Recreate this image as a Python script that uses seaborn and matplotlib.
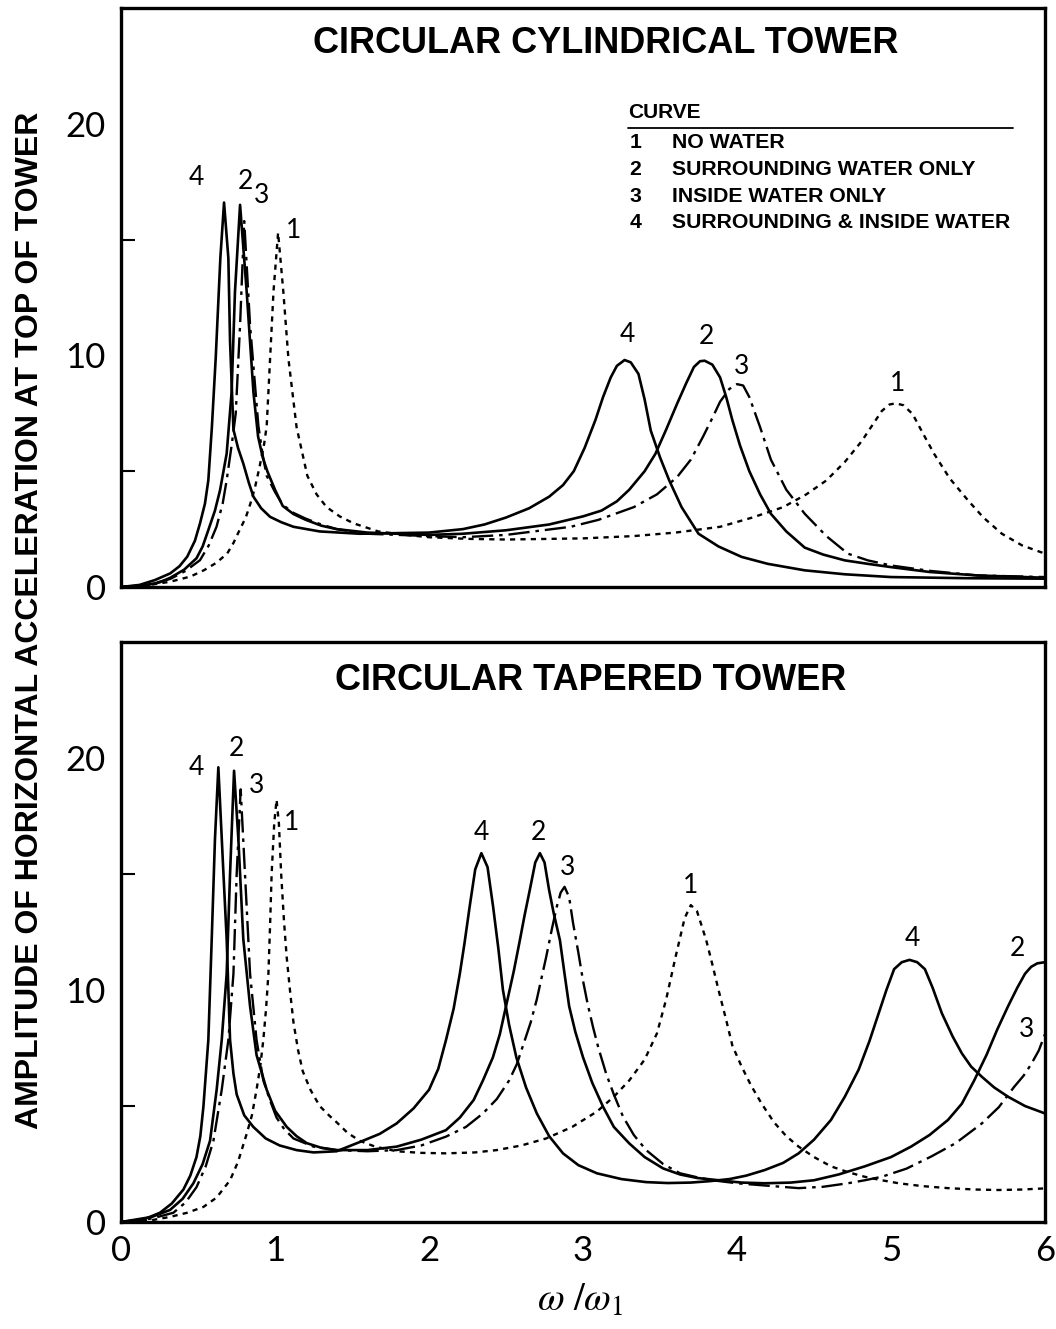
import matplotlib
matplotlib.use("Agg")
import matplotlib.pyplot as plt
import seaborn as sns
import pandas as pd

# ---------------- data ----------------
TOP_TITLE = "CIRCULAR CYLINDRICAL TOWER"
BOTTOM_TITLE = "CIRCULAR TAPERED TOWER"
Y_LABEL = "AMPLITUDE OF HORIZONTAL ACCELERATION AT TOP OF TOWER"
X_LABEL = r"$\omega\ /\omega_1$"
X_TICKS = [0, 1, 2, 3, 4, 5, 6]
Y_MAJOR = [0, 10, 20]
Y_MINOR = [5, 15]
LEGEND_TITLE = "CURVE"
LEGEND_NUMBERS = ["1", "2", "3", "4"]
LEGEND_LABELS = ["NO WATER", "SURROUNDING WATER ONLY",
                 "INSIDE WATER ONLY", "SURROUNDING & INSIDE WATER"]

# top panel (cylindrical tower): (omega/omega1, amplitude)
top_c1 = [(0, 0), (0.15, 0.05), (0.32, 0.23), (0.45, 0.45), (0.54, 0.73), (0.62, 1.05),
          (0.69, 1.45), (0.73, 1.9), (0.77, 2.46), (0.81, 3.0), (0.84, 3.6), (0.87, 4.3),
          (0.90, 5.2), (0.93, 6.2), (0.946, 6.96), (0.968, 9.86), (0.99, 12.75), (1.02, 15.3),
          (1.054, 12.75), (1.087, 9.86), (1.14, 6.9), (1.21, 4.8), (1.27, 4.0), (1.335, 3.45),
          (1.42, 3.05), (1.51, 2.75), (1.67, 2.4), (1.85, 2.25), (2.0, 2.15), (2.25, 2.08),
          (2.5, 2.05), (3.0, 2.1), (3.33, 2.2), (3.6, 2.35), (3.89, 2.6), (4.1, 3.0),
          (4.3, 3.45), (4.45, 4.0), (4.58, 4.6), (4.7, 5.4), (4.81, 6.3), (4.88, 7.0),
          (4.94, 7.6), (4.99, 7.88), (5.03, 7.93), (5.08, 7.85), (5.14, 7.47), (5.21, 6.6),
          (5.28, 5.75), (5.38, 4.7), (5.5, 3.74), (5.6, 3.0), (5.72, 2.3), (5.85, 1.8),
          (6.0, 1.44)]
top_c2 = [(0, 0), (0.15, 0.07), (0.25, 0.2), (0.32, 0.4), (0.41, 0.75), (0.49, 1.24),
          (0.53, 1.75), (0.567, 2.46), (0.61, 3.3), (0.643, 4.18), (0.686, 5.76), (0.718, 8.4),
          (0.74, 12.75), (0.773, 16.5), (0.816, 12.75), (0.86, 8.4), (0.89, 6.5), (0.92, 5.6),
          (0.95, 5.0), (1.0, 4.2), (1.05, 3.5), (1.12, 3.15), (1.2, 2.9), (1.3, 2.65),
          (1.4, 2.5), (1.6, 2.35), (2.0, 2.25), (2.22, 2.3), (2.5, 2.45), (2.78, 2.7),
          (3.0, 3.05), (3.12, 3.3), (3.22, 3.7), (3.3, 4.2), (3.4, 5.0), (3.47, 5.75),
          (3.54, 6.8), (3.61, 7.9), (3.67, 8.8), (3.72, 9.5), (3.76, 9.75), (3.79, 9.77),
          (3.84, 9.6), (3.89, 9.05), (3.93, 8.2), (3.97, 7.2), (4.02, 6.1), (4.08, 5.0),
          (4.15, 4.0), (4.22, 3.16), (4.32, 2.4), (4.44, 1.7), (4.56, 1.4), (4.7, 1.15),
          (4.85, 1.0), (5.0, 0.86), (5.25, 0.65), (5.56, 0.5), (6.0, 0.4)]
top_c3 = [(0, 0), (0.15, 0.05), (0.32, 0.35), (0.42, 0.7), (0.513, 1.16), (0.57, 1.8),
          (0.62, 2.6), (0.66, 3.6), (0.686, 4.61), (0.72, 6.2), (0.745, 7.5), (0.773, 11.3),
          (0.80, 15.8), (0.838, 11.3), (0.892, 6.96), (0.92, 5.7), (0.946, 4.8), (1.0, 4.1),
          (1.05, 3.55), (1.12, 3.2), (1.2, 2.95), (1.3, 2.7), (1.4, 2.5), (1.6, 2.3),
          (2.0, 2.2), (2.22, 2.15), (2.5, 2.25), (2.92, 2.6), (3.1, 2.9), (3.33, 3.45),
          (3.48, 4.0), (3.61, 4.74), (3.7, 5.5), (3.78, 6.5), (3.84, 7.3), (3.89, 8.0),
          (3.95, 8.55), (4.0, 8.76), (4.04, 8.7), (4.08, 8.2), (4.15, 6.9), (4.22, 5.5),
          (4.32, 4.2), (4.44, 3.16), (4.58, 2.2), (4.72, 1.44), (4.85, 1.15), (5.0, 0.93),
          (5.25, 0.7), (5.56, 0.5), (6.0, 0.43)]
top_c4 = [(0, 0), (0.12, 0.09), (0.22, 0.3), (0.32, 0.59), (0.38, 0.9), (0.43, 1.31),
          (0.48, 2.0), (0.513, 2.75), (0.545, 3.6), (0.567, 4.61), (0.59, 6.9), (0.615, 9.9),
          (0.645, 14.2), (0.669, 16.6), (0.697, 14.2), (0.708, 10.6), (0.73, 6.8), (0.76, 6.0),
          (0.794, 5.33), (0.83, 4.5), (0.86, 3.9), (0.91, 3.4), (0.968, 3.03), (1.04, 2.8),
          (1.12, 2.6), (1.29, 2.4), (1.55, 2.3), (2.0, 2.35), (2.22, 2.5), (2.36, 2.7),
          (2.5, 3.0), (2.65, 3.4), (2.78, 3.9), (2.87, 4.4), (2.94, 5.0), (3.01, 6.0),
          (3.08, 7.2), (3.13, 8.2), (3.18, 9.05), (3.22, 9.55), (3.27, 9.8), (3.31, 9.7),
          (3.36, 9.2), (3.40, 8.1), (3.44, 6.75), (3.50, 5.6), (3.56, 4.6), (3.64, 3.45),
          (3.75, 2.3), (3.88, 1.75), (4.03, 1.3), (4.2, 1.0), (4.44, 0.72), (4.7, 0.55),
          (5.0, 0.43), (5.5, 0.38), (6.0, 0.36)]

# bottom panel (tapered tower)
bot_c1 = [(0, 0), (0.2, 0.08), (0.318, 0.22), (0.43, 0.4), (0.535, 0.65), (0.62, 1.05),
          (0.708, 1.8), (0.76, 2.6), (0.816, 3.8), (0.85, 4.6), (0.88, 5.7), (0.904, 6.7),
          (0.924, 7.85), (0.942, 9.2), (0.957, 10.7), (0.968, 12.8), (0.978, 15.0),
          (0.995, 17.2), (1.01, 18.2), (1.025, 17.2), (1.04, 15.0), (1.058, 13.0),
          (1.076, 11.4), (1.1, 9.8), (1.12, 8.6), (1.15, 7.4), (1.18, 6.5), (1.23, 5.7),
          (1.29, 5.0), (1.35, 4.6), (1.4, 4.3), (1.47, 3.85), (1.55, 3.5), (1.65, 3.25),
          (1.79, 3.05), (1.95, 2.98), (2.11, 2.96), (2.3, 3.0), (2.44, 3.1), (2.6, 3.3),
          (2.76, 3.6), (2.93, 4.1), (3.09, 4.76), (3.2, 5.4), (3.3, 6.1), (3.4, 7.0),
          (3.48, 8.13), (3.54, 9.6), (3.6, 11.4), (3.66, 13.1), (3.70, 13.66), (3.74, 13.4),
          (3.8, 12.15), (3.84, 11.1), (3.88, 10.0), (3.93, 8.7), (3.97, 7.6), (4.03, 6.7),
          (4.09, 5.9), (4.16, 5.1), (4.24, 4.3), (4.32, 3.7), (4.4, 3.25), (4.5, 2.8),
          (4.61, 2.4), (4.72, 2.15), (4.83, 1.95), (4.94, 1.8), (5.05, 1.67), (5.2, 1.55),
          (5.37, 1.46), (5.55, 1.4), (5.7, 1.38), (5.85, 1.4), (6.0, 1.45)]
bot_c2 = [(0, 0), (0.2, 0.22), (0.318, 0.52), (0.4, 1.0), (0.47, 1.67), (0.53, 2.5),
          (0.578, 3.5), (0.621, 5.7), (0.654, 7.85), (0.686, 10.7), (0.708, 15.0),
          (0.734, 19.45), (0.762, 16.5), (0.794, 12.2), (0.838, 9.3), (0.88, 7.2),
          (0.946, 5.7), (1.0, 4.8), (1.076, 4.1), (1.14, 3.7), (1.206, 3.4), (1.3, 3.2),
          (1.4, 3.1), (1.6, 3.1), (1.79, 3.25), (1.95, 3.55), (2.11, 3.96), (2.2, 4.5),
          (2.29, 5.26), (2.35, 6.1), (2.415, 7.1), (2.46, 8.1), (2.5, 9.3), (2.55, 10.8),
          (2.59, 12.15), (2.62, 13.2), (2.654, 14.3), (2.69, 15.5), (2.72, 15.9), (2.75, 15.5),
          (2.78, 14.3), (2.81, 13.3), (2.85, 12.15), (2.88, 10.7), (2.91, 9.3), (2.95, 8.2),
          (3.0, 7.1), (3.06, 6.0), (3.13, 4.97), (3.2, 4.1), (3.3, 3.39), (3.4, 2.8),
          (3.52, 2.31), (3.63, 2.05), (3.74, 1.9), (3.88, 1.8), (4.03, 1.7), (4.18, 1.67),
          (4.35, 1.7), (4.5, 1.8), (4.66, 2.05), (4.83, 2.4), (5.0, 2.8), (5.13, 3.25),
          (5.25, 3.75), (5.37, 4.4), (5.46, 5.1), (5.54, 6.1), (5.62, 7.2), (5.69, 8.3),
          (5.76, 9.3), (5.82, 10.1), (5.87, 10.7), (5.91, 11.0), (5.95, 11.15), (6.0, 11.2)]
bot_c3 = [(0, 0), (0.2, 0.15), (0.34, 0.4), (0.42, 0.85), (0.49, 1.5), (0.55, 2.4),
          (0.6, 3.5), (0.654, 5.7), (0.697, 7.85), (0.73, 10.7), (0.751, 15.0),
          (0.777, 18.65), (0.805, 15.0), (0.838, 10.7), (0.88, 7.85), (0.924, 6.1),
          (0.97, 5.2), (1.01, 4.5), (1.06, 4.0), (1.12, 3.6), (1.25, 3.25), (1.4, 3.1),
          (1.6, 3.05), (1.79, 3.1), (1.95, 3.3), (2.11, 3.68), (2.24, 4.1), (2.35, 4.68),
          (2.44, 5.3), (2.52, 6.1), (2.57, 6.8), (2.61, 7.6), (2.66, 8.6), (2.7, 9.6),
          (2.73, 10.5), (2.76, 11.4), (2.8, 12.7), (2.83, 13.6), (2.855, 14.2), (2.88, 14.45),
          (2.91, 14.0), (2.935, 12.9), (2.97, 11.6), (3.0, 10.4), (3.03, 9.4), (3.065, 8.4),
          (3.1, 7.5), (3.15, 6.4), (3.2, 5.5), (3.26, 4.54), (3.33, 3.75), (3.41, 3.1),
          (3.52, 2.5), (3.63, 2.1), (3.74, 1.93), (3.84, 1.8), (4.0, 1.67), (4.17, 1.58),
          (4.4, 1.46), (4.56, 1.52), (4.72, 1.67), (4.83, 1.8), (4.94, 1.95), (5.1, 2.3),
          (5.26, 2.82), (5.42, 3.4), (5.59, 4.25), (5.7, 4.95), (5.8, 5.83), (5.86, 6.3),
          (5.91, 6.8), (5.96, 7.4), (6.0, 8.1)]
bot_c4 = [(0, 0), (0.15, 0.12), (0.253, 0.4), (0.33, 0.8), (0.405, 1.4), (0.45, 2.0),
          (0.49, 2.8), (0.515, 3.7), (0.535, 4.97), (0.567, 7.85), (0.589, 12.2),
          (0.61, 16.5), (0.632, 19.6), (0.665, 15.03), (0.686, 12.2), (0.708, 7.85),
          (0.73, 6.4), (0.751, 5.5), (0.80, 4.6), (0.859, 4.1), (0.94, 3.6), (1.03, 3.3),
          (1.14, 3.1), (1.25, 3.0), (1.4, 3.05), (1.57, 3.5), (1.68, 3.8), (1.79, 4.25),
          (1.9, 4.9), (2.0, 5.7), (2.06, 6.6), (2.11, 7.84), (2.16, 9.2), (2.2, 10.7),
          (2.23, 12.0), (2.264, 13.6), (2.30, 15.2), (2.34, 15.9), (2.38, 15.3), (2.416, 13.6),
          (2.45, 11.8), (2.48, 10.0), (2.52, 8.5), (2.567, 7.1), (2.63, 5.8), (2.7, 4.68),
          (2.78, 3.7), (2.87, 2.96), (2.97, 2.45), (3.09, 2.1), (3.25, 1.85), (3.41, 1.72),
          (3.55, 1.68), (3.7, 1.7), (3.82, 1.76), (3.95, 1.85), (4.06, 2.0), (4.18, 2.24),
          (4.3, 2.55), (4.4, 2.96), (4.5, 3.55), (4.61, 4.4), (4.7, 5.4), (4.79, 6.57),
          (4.86, 7.8), (4.92, 9.0), (4.97, 10.0), (5.02, 10.9), (5.07, 11.2), (5.12, 11.3),
          (5.17, 11.2), (5.22, 10.9), (5.27, 10.1), (5.33, 9.0), (5.4, 8.0), (5.46, 7.27),
          (5.52, 6.7), (5.59, 6.26), (5.67, 5.8), (5.76, 5.4), (5.87, 5.0), (6.0, 4.68)]

# ---------------- build table ----------------
frames = []
for panel, curves in (("top", [top_c1, top_c2, top_c3, top_c4]),
                      ("bottom", [bot_c1, bot_c2, bot_c3, bot_c4])):
    for i, pts in enumerate(curves):
        d = pd.DataFrame(pts, columns=["x", "y"])
        d["curve"] = str(i + 1)
        d["panel"] = panel
        frames.append(d)
df = pd.concat(frames, ignore_index=True)

# ---------------- layout / style ----------------
STYLES = {"1": dict(linestyle=(0, (2.2, 2.2)), linewidth=1.7),
          "2": dict(linestyle="-", linewidth=1.9),
          "3": dict(linestyle=(0, (9, 2.5, 1.5, 2.5)), linewidth=1.7),
          "4": dict(linestyle="-", linewidth=1.9)}

LABELS_TOP = [("4", 0.49, 17.7), ("2", 0.81, 17.5), ("3", 0.91, 16.9), ("1", 1.12, 15.4),
              ("4", 3.29, 10.9), ("2", 3.80, 10.8), ("3", 4.03, 9.5), ("1", 5.04, 8.8)]
LABELS_BOT = [("4", 0.49, 19.6), ("2", 0.75, 20.4), ("3", 0.88, 18.8), ("1", 1.11, 17.2),
              ("4", 2.34, 16.8), ("2", 2.71, 16.8), ("3", 2.90, 15.3), ("1", 3.70, 14.5),
              ("4", 5.14, 12.2), ("2", 5.82, 11.8), ("3", 5.88, 8.3)]

sns.set_theme(style="white")
plt.rcParams["font.family"] = ["Liberation Sans", "DejaVu Sans"]
plt.rcParams["mathtext.fontset"] = "stix"
plt.rcParams["text.color"] = "black"
plt.rcParams["xtick.color"] = "black"
plt.rcParams["ytick.color"] = "black"
plt.rcParams["axes.edgecolor"] = "black"

NUM_FAMILY = ["Lato", "DejaVu Sans"]

fig = plt.figure(figsize=(10.56, 13.29), dpi=100)
ax_top = fig.add_axes([0.1146, 0.5583, 0.875, 0.4357])
ax_bot = fig.add_axes([0.1146, 0.0805, 0.875, 0.4364])

for ax, panel, title, labels in ((ax_top, "top", TOP_TITLE, LABELS_TOP),
                                 (ax_bot, "bottom", BOTTOM_TITLE, LABELS_BOT)):
    sub = df[df.panel == panel]
    for c in ["1", "2", "3", "4"]:
        d = sub[sub.curve == c]
        sns.lineplot(data=d, x="x", y="y", ax=ax, color="black", estimator=None,
                     sort=False, legend=False, **STYLES[c])
    ax.set_xlim(0, 6)
    ax.set_ylim(0, 25)
    ax.set_xticks(X_TICKS)
    ax.set_yticks(Y_MAJOR)
    ax.set_yticks(Y_MINOR, minor=True)
    ax.set_xlabel("")
    ax.set_ylabel("")
    for s in ax.spines.values():
        s.set_linewidth(2.4)
        s.set_color("black")
    ax.tick_params(axis="both", which="major", direction="in", length=18, width=1.8,
                   colors="black", labelsize=25, top=False, right=False)
    ax.tick_params(axis="y", which="minor", direction="in", length=10, width=1.5,
                   left=True, right=False, colors="black")
    ax.tick_params(axis="y", which="major", pad=11)
    ax.tick_params(axis="x", which="major", pad=9)
    for lab in ax.get_yticklabels() + ax.get_xticklabels():
        lab.set_fontfamily(NUM_FAMILY)
        lab.set_color("black")
    ax.text(3.15 if panel == "top" else 3.05, 23.45 if panel == "top" else 23.35, title,
            ha="center", va="center", fontsize=26, fontweight="bold", color="black")
    for t, x, y in labels:
        ax.text(x, y, t, ha="center", va="center", fontsize=19, family=NUM_FAMILY,
                color="black")

ax_top.tick_params(axis="x", labelbottom=False)

# legend table in the top panel
ax_top.text(3.29, 20.47, LEGEND_TITLE, ha="left", va="center", fontsize=15,
            fontweight="bold", color="black")
ax_top.plot([3.29, 5.79], [19.83, 19.83], color="black", linewidth=1.3)
for i, (n, lab) in enumerate(zip(LEGEND_NUMBERS, LEGEND_LABELS)):
    yy = 19.18 - i * 1.15
    ax_top.text(3.30, yy, n, ha="left", va="center", fontsize=15.3, fontweight="bold",
                color="black")
    ax_top.text(3.58, yy, lab, ha="left", va="center", fontsize=15.3, fontweight="bold",
                color="black")

fig.text(0.028, 0.5335, Y_LABEL, rotation=90, ha="center", va="center",
         fontsize=23, fontweight="bold", color="black")
fig.text(0.5495, 0.021, X_LABEL, ha="center", va="center", fontsize=28, color="black")

fig.savefig("out.png", dpi=100, facecolor="white")
